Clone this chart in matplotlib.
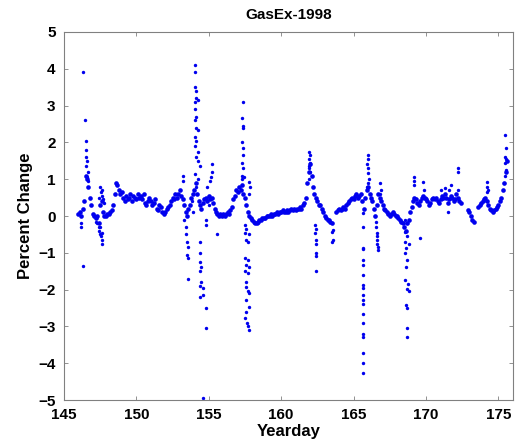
import matplotlib
matplotlib.use("Agg")
import matplotlib.pyplot as plt

plt.rcParams["font.family"] = ["Liberation Sans", "DejaVu Sans"]

# main band of the record (yearday, percent change)
base_day = [146.0, 146.1, 146.2, 146.3, 146.4, 146.5, 146.6, 146.7, 146.8, 146.9,
            147.0, 147.1, 147.2, 147.3, 147.4, 147.5, 147.6, 147.7, 147.8, 147.9,
            148.0, 148.1, 148.2, 148.3, 148.4, 148.5, 148.6, 148.7, 148.8, 148.9,
            149.0, 149.1, 149.2, 149.3, 149.4, 149.5, 149.6, 149.7, 149.8, 149.9,
            150.0, 150.1, 150.2, 150.3, 150.4, 150.5, 150.6, 150.7, 150.8, 150.9,
            151.0, 151.1, 151.2, 151.3, 151.4, 151.5, 151.6, 151.7, 151.8, 151.9,
            152.0, 152.1, 152.2, 152.3, 152.4, 152.5, 152.6, 152.7, 152.8, 152.9,
            153.0, 153.1, 153.2, 153.3, 153.4, 153.5, 153.6, 153.7, 153.8, 153.9,
            154.0, 154.1, 154.2, 154.3, 154.4, 154.5, 154.6, 154.7, 154.8, 154.9,
            155.0, 155.1, 155.2, 155.3, 155.4, 155.5, 155.6, 155.7, 155.8, 155.9,
            156.0, 156.1, 156.2, 156.3, 156.4, 156.5, 156.6, 156.7, 156.8, 156.9,
            157.0, 157.1, 157.2, 157.3, 157.4, 157.5, 157.6, 157.7, 157.8, 157.9,
            158.0, 158.1, 158.2, 158.3, 158.4, 158.5, 158.6, 158.7, 158.8, 158.9,
            159.0, 159.1, 159.2, 159.3, 159.4, 159.5, 159.6, 159.7, 159.8, 159.9,
            160.0, 160.1, 160.2, 160.3, 160.4, 160.5, 160.6, 160.7, 160.8, 160.9,
            161.0, 161.1, 161.2, 161.3, 161.4, 161.5, 161.6, 161.7, 161.8, 161.9,
            162.0, 162.1, 162.2, 162.3, 162.4, 162.5, 162.6, 162.7, 162.8, 162.9,
            163.0, 163.1, 163.2, 163.3, 163.4, 163.5,
            163.8, 163.9,
            164.0, 164.1, 164.2, 164.3, 164.4, 164.5, 164.6, 164.7, 164.8, 164.9,
            165.0, 165.1, 165.2, 165.3, 165.4, 165.5, 165.6, 165.7, 165.8, 165.9,
            166.0, 166.1, 166.2, 166.3, 166.4, 166.5, 166.6, 166.7, 166.8, 166.9,
            167.0, 167.1, 167.2, 167.3, 167.4, 167.5, 167.6, 167.7, 167.8, 167.9,
            168.0, 168.1, 168.2, 168.3, 168.4, 168.5, 168.6, 168.7, 168.8, 168.9,
            169.0, 169.1, 169.2, 169.3, 169.4, 169.5, 169.6, 169.7, 169.8, 169.9,
            170.0, 170.1, 170.2, 170.3, 170.4, 170.5, 170.6, 170.7, 170.8, 170.9,
            171.0, 171.1, 171.2, 171.3, 171.4, 171.5, 171.6, 171.7, 171.8, 171.9,
            172.0, 172.1, 172.2, 172.3, 172.4,
            172.9, 173.0, 173.1, 173.2, 173.3,
            173.6, 173.7, 173.8, 173.9,
            174.0, 174.1, 174.2, 174.3, 174.4, 174.5, 174.6, 174.7, 174.8, 174.9,
            175.0, 175.1, 175.2, 175.3, 175.4, 175.5, 175.6]
base_pct = [0.05, 0.10, 0.00, 0.20, 0.40, 1.10, 1.00, 0.80, 0.50, 0.30,
            0.05, 0.00, -0.05, 0.00, -0.20, 0.30, 0.40, 0.10, 0.00, 0.00,
            0.05, 0.05, 0.10, 0.15, 0.30, 0.60, 0.90, 0.85, 0.70, 0.60,
            0.65, 0.50, 0.40, 0.55, 0.45, 0.50, 0.60, 0.40, 0.55, 0.50,
            0.45, 0.60, 0.50, 0.55, 0.45, 0.60, 0.35, 0.30, 0.40, 0.50,
            0.40, 0.30, 0.35, 0.45, 0.20, 0.15, 0.30, 0.25, 0.10, 0.05,
            0.10, 0.20, 0.25, 0.30, 0.40, 0.50, 0.45, 0.60, 0.50, 0.60,
            0.70, 0.55, 0.45, 0.30, 0.10, 0.00, 0.20, 0.30, 0.50, 0.60,
            0.70, 0.90, 0.60, 0.40, 0.30, 0.20, 0.35, 0.45, 0.50, 0.40,
            0.55, 0.45, 0.50, 0.35, 0.20, 0.10, 0.05, 0.00, 0.05, 0.00,
            0.05, 0.00, 0.05, 0.10, 0.05, 0.15, 0.25, 0.45, 0.55, 0.70,
            0.65, 0.80, 0.70, 0.85, 0.60, 0.50, 0.30, 0.10, 0.00, -0.05,
            -0.10, -0.15, -0.20, -0.20, -0.15, -0.10, -0.10, -0.05, -0.05, -0.05,
            0.00, 0.00, 0.00, 0.05, 0.00, 0.05, 0.05, 0.10, 0.05, 0.10,
            0.10, 0.15, 0.10, 0.10, 0.15, 0.10, 0.15, 0.20, 0.15, 0.20,
            0.15, 0.20, 0.20, 0.25, 0.20, 0.30, 0.35, 0.50, 0.90, 1.20,
            1.40, 1.10, 0.80, 0.60, 0.50, 0.40, 0.30, 0.30, 0.20, 0.10,
            0.00, -0.05, -0.10, -0.10, -0.15, -0.20,
            0.10, 0.15,
            0.20, 0.15, 0.20, 0.25, 0.20, 0.30, 0.35, 0.40, 0.45, 0.50,
            0.45, 0.55, 0.60, 0.50, 0.55, 0.60, 0.40, 0.20, 0.50, 0.70,
            0.80, 0.60, 0.50, 0.40, 0.20, 0.00, 0.30, 0.60, 0.50, 0.40,
            0.30, 0.20, 0.15, 0.10, 0.05, 0.00, 0.05, 0.10, 0.05, 0.00,
            0.00, -0.05, -0.10, -0.15, -0.20, -0.30, -0.40, -0.20, -0.10, 0.10,
            0.25, 0.40, 0.50, 0.45, 0.35, 0.30, 0.40, 0.50, 0.55, 0.50,
            0.45, 0.40, 0.30, 0.35, 0.45, 0.50, 0.45, 0.50, 0.40, 0.35,
            0.45, 0.55, 0.50, 0.60, 0.50, 0.35, 0.45, 0.55, 0.50, 0.40,
            0.45, 0.60, 0.50, 0.40, 0.35,
            0.15, 0.10, 0.00, -0.10, -0.15,
            0.25, 0.30, 0.35, 0.40,
            0.45, 0.50, 0.40, 0.30, 0.20, 0.15, 0.10, 0.15, 0.20, 0.25,
            0.30, 0.40, 0.50, 0.70, 0.90, 1.20, 1.50]

# scattered excursions away from the band
spike_day = [146.35, 146.45, 146.5, 146.5, 146.55, 146.6, 146.55, 146.65, 146.6, 146.7,
             146.35, 146.2, 146.15,
             147.2, 147.3, 147.4, 147.45, 147.5, 147.55, 147.6, 147.65, 147.5, 147.6,
             147.45, 147.5, 147.55, 147.6, 147.65, 147.7, 147.75,
             153.2, 153.25, 153.3, 153.4, 153.45, 153.5, 153.55, 153.5, 153.6, 153.6,
             154.03, 154.03, 154.03, 154.15, 154.15, 154.03, 154.26, 154.03, 154.15, 154.03,
             154.15, 154.26, 154.03, 154.15, 154.03, 154.26, 154.15, 154.26, 154.37, 154.03,
             154.26, 154.15, 153.88, 153.9,
             154.37, 154.37, 154.37, 154.49, 154.37, 154.49, 154.37, 154.6, 154.37, 154.6,
             154.8, 154.8, 154.8, 154.8, 154.6, 154.9, 155.0,
             155.25, 155.2, 155.15, 155.1, 155.55,
             157.35, 157.33, 157.35, 157.38, 157.33, 157.38, 157.35, 157.33, 157.38, 157.33,
             157.43, 157.3, 157.8, 157.85, 157.8,
             157.47, 157.58, 157.47, 157.8, 157.58, 157.69, 157.47, 157.69, 157.58, 157.76,
             157.47, 157.69, 157.58, 157.55, 157.69, 157.76, 157.58, 157.8, 157.55, 157.47,
             157.62, 157.69, 157.76,
             161.94, 161.98, 161.94, 161.96, 161.92, 161.94, 161.98, 161.93,
             162.39, 162.39, 162.41, 162.39, 162.43, 162.37, 162.41, 162.35, 163.5, 163.5,
             163.6, 163.6,
             165.64, 165.64, 165.68, 165.62, 165.64, 165.68, 165.62, 165.68, 165.64, 165.64,
             165.68, 165.62, 165.64, 165.68, 165.64, 165.64, 165.62, 165.64, 165.66,
             165.98, 166.0, 165.95, 166.02, 165.98, 166.05, 166.0, 165.95,
             166.5, 166.55, 166.55, 166.6, 166.6, 166.65, 166.65, 166.7, 166.7,
             166.85, 166.88, 166.82,
             168.57, 168.68, 168.57, 168.68, 168.57, 168.8, 168.62, 168.57, 168.72, 168.62,
             168.57, 168.75, 168.68, 168.8, 168.62, 168.72, 168.68, 168.72,
             169.6, 169.15, 169.15, 169.18, 169.8, 169.85, 171.06, 171.3, 172.2, 172.2,
             172.22, 171.5, 171.75, 171.6,
             174.2, 174.2, 174.25, 174.18,
             175.46, 175.5, 175.46, 175.52, 175.44, 175.5, 175.44, 175.4]
spike_pct = [3.90, 2.60, 2.05, 1.80, 1.60, 1.50, 1.35, 1.20, 1.05, 0.95,
             -1.35, -0.30, -0.20,
             -0.15, -0.20, -0.30, -0.40, -0.50, -0.55, -0.65, -0.75, -0.30, -0.45,
             0.50, 0.80, 0.65, 0.55, 0.70, 0.45, 0.35,
             1.10, 0.95, -0.10, -0.30, -0.50, -0.70, -0.85, -1.05, -1.15, -1.70,
             4.10, 3.90, 3.50, 3.40, 3.20, 3.10, 3.15, 2.90, 2.70, 2.60,
             2.40, 2.35, 2.15, 2.05, 1.90, 1.75, 1.60, 1.50, 1.35, 1.15,
             1.00, 0.80, 0.40, 0.10,
             -0.70, -1.00, -1.25, -1.38, -1.50, -1.80, -1.90, -1.95, -2.20, -2.15,
             -2.50, -3.05, -0.10, -0.25, -4.95, 0.80, 0.30,
             1.40, 1.20, 1.05, 0.95, -0.50,
             3.10, 2.65, 2.45, 2.40, 2.00, 1.85, 1.67, 1.45, 1.30, 1.10,
             1.05, 1.00, 0.93, 0.80, 0.60,
             -0.25, -0.35, -0.47, -0.50, -0.65, -0.70, -1.15, -1.20, -1.33, -1.38,
             -1.50, -1.55, -1.80, -1.92, -2.05, -2.10, -2.28, -2.47, -2.60, -2.78,
             -2.90, -3.00, -3.10,
             1.74, 1.65, 1.55, 1.45, 1.35, 1.30, 1.20, 1.00,
             -1.50, -1.10, -1.00, -0.75, -0.65, -0.47, -0.35, -0.25, -0.43, -0.70,
             -0.38, -0.65,
             -0.30, -0.87, -0.90, -1.20, -1.33, -1.60, -1.88, -1.95, -2.15, -2.28,
             -2.40, -2.65, -2.90, -3.20, -3.30, -3.72, -4.00, -4.27, 0.07,
             1.65, 1.55, 1.40, 1.30, 1.17, 1.00, 0.90, 0.80,
             0.00, -0.15, -0.30, -0.45, -0.55, -0.65, -0.75, -0.85, -0.93,
             0.90, 0.70, 0.60,
             -0.10, -0.20, -0.43, -0.55, -0.70, -0.75, -0.87, -1.00, -1.20, -1.38,
             -1.74, -1.85, -1.97, -2.05, -2.42, -2.50, -3.05, -3.30,
             -0.60, 1.05, 0.95, 0.85, 0.92, 0.70, 0.70, 0.75, 1.30, 1.20,
             0.70, 0.10, 0.85, 0.70,
             0.92, 0.80, 0.70, 0.65,
             2.20, 1.85, 1.60, 1.55, 1.43, 1.25, 1.10, 0.90]

yticks = [-5, -4, -3, -2, -1, 0, 1, 2, 3, 4, 5]
xticks = [145, 150, 155, 160, 165, 170, 175]

fig = plt.figure(figsize=(5.15, 4.44), dpi=100)
ax = fig.add_axes([0.124, 0.099, 0.872, 0.829])

ax.scatter(base_day, base_pct, s=11, c="#0000ee", linewidths=0)
ax.scatter(spike_day, spike_pct, s=6, c="#0000ee", linewidths=0)

ax.set_xlim(145, 176)
ax.set_ylim(-5, 5)
ax.set_xticks(xticks)
ax.set_yticks(yticks)
ax.tick_params(direction="in", top=True, right=True, length=3, width=0.6,
               color="#808080", labelsize=11, pad=6)
for lbl in ax.get_xticklabels() + ax.get_yticklabels():
    lbl.set_fontweight("bold")
for sp in ax.spines.values():
    sp.set_color("#808080")
    sp.set_linewidth(0.8)

ax.set_title("GasEx-1998", fontsize=11, fontweight="bold", pad=9)
ax.set_xlabel("Yearday", fontsize=12, fontweight="bold", labelpad=1)
ax.set_ylabel("Percent Change", fontsize=12, fontweight="bold", labelpad=4)

fig.savefig("out.png", dpi=100)
